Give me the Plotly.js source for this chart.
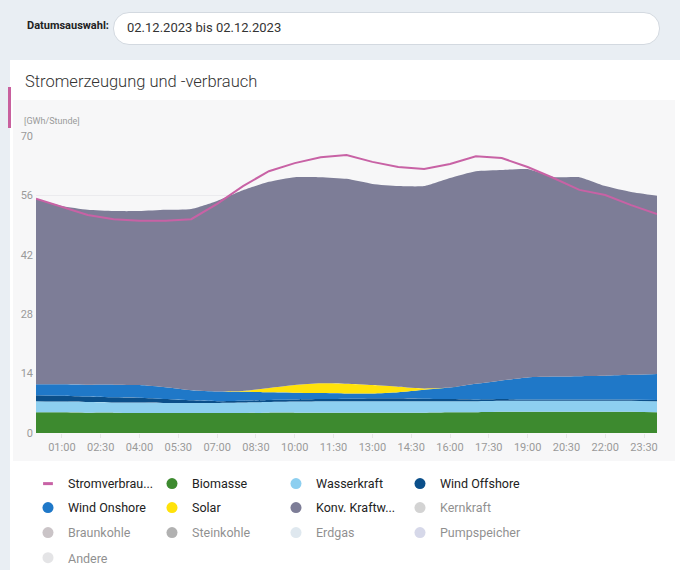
<!DOCTYPE html>
<html>
<head>
<meta charset="utf-8">
<script src="https://cdn.plot.ly/plotly-3.0.1.min.js"></script>
<style>
  html, body { margin: 0; padding: 0; }
  body { width: 680px; height: 570px; overflow: hidden; background: #e9eef3; position: relative; font-family: Roboto, "Open Sans", sans-serif; }
  #lbl { position: absolute; left: 27px; top: 19px; font-size: 11px; font-weight: bold; color: #222; }
  #inp { position: absolute; left: 113px; top: 12px; width: 545px; height: 31px; border: 1px solid #d3d9e0; border-radius: 16px; background: #fff; box-sizing: content-box; }
  #inp span { position: absolute; left: 13px; top: 7px; font-size: 13px; color: #333; }
  #card { position: absolute; left: 10px; top: 60px; width: 670px; height: 510px; background: #fff; }
  #title { position: absolute; left: 25px; top: 72px; font-size: 16.5px; font-weight: 300; color: #333; }
  #bar { position: absolute; left: 8px; top: 87px; width: 3px; height: 41px; background: #c8609e; }
  #panel { position: absolute; left: 13px; top: 100px; width: 662px; height: 361px; background: #f7f7f8; }
  #chart { position: absolute; left: 13px; top: 100px; width: 662px; height: 470px; }
</style>
</head>
<body>
<div id="lbl">Datumsauswahl:</div>
<div id="inp"><span>02.12.2023 bis 02.12.2023</span></div>
<div id="card"></div>
<div id="title">Stromerzeugung und -verbrauch</div>
<div id="bar"></div>
<div id="panel"></div>
<div id="chart"></div>
<script>
// Hourly time stamps for 02.12.2023
const times = [
  "2023-12-02 00:00","2023-12-02 01:00","2023-12-02 02:00","2023-12-02 03:00","2023-12-02 04:00",
  "2023-12-02 05:00","2023-12-02 06:00","2023-12-02 07:00","2023-12-02 08:00","2023-12-02 09:00",
  "2023-12-02 10:00","2023-12-02 11:00","2023-12-02 12:00","2023-12-02 13:00","2023-12-02 14:00",
  "2023-12-02 15:00","2023-12-02 16:00","2023-12-02 17:00","2023-12-02 18:00","2023-12-02 19:00",
  "2023-12-02 20:00","2023-12-02 21:00","2023-12-02 22:00","2023-12-02 23:00","2023-12-03 00:00"
];

// GWh per hour
const biomasse     = [4.9,4.9,4.8,4.8,4.7,4.7,4.7,4.7,4.7,4.8,4.8,4.8,4.8,4.8,4.8,4.8,4.9,4.9,5.0,5.0,5.0,5.0,5.0,5.0,4.9];
const wasserkraft  = [2.6,2.5,2.5,2.4,2.5,2.4,2.4,2.4,2.5,2.5,2.6,2.7,2.7,2.7,2.7,2.7,2.6,2.6,2.6,2.6,2.6,2.6,2.6,2.6,2.6];
const windOffshore = [1.4,1.4,1.3,1.2,1.1,0.9,0.6,0.4,0.4,0.5,0.5,0.5,0.6,0.7,0.7,0.6,0.5,0.4,0.4,0.3,0.3,0.3,0.3,0.3,0.3];
const windOnshore  = [2.6,2.7,2.8,3.0,3.0,2.8,2.4,2.3,2.1,1.8,1.6,1.4,1.2,1.1,1.4,2.1,2.7,3.7,4.4,5.2,5.4,5.5,5.6,5.8,6.1];
const solar        = [0,0,0,0,0,0,0,0,0.2,1.0,1.8,2.3,2.3,2.0,1.3,0.3,0,0,0,0,0,0,0,0,0];
const konv         = [43.7,42.0,41.2,40.9,41.0,41.8,42.7,44.9,47.3,48.6,49.0,48.6,48.3,47.4,47.3,47.7,49.4,50.1,49.6,49.1,47.0,46.9,44.7,43.1,42.0];
const verbrauch    = [55.2,53.3,51.4,50.4,50.0,50.0,50.4,54.0,58.2,61.7,63.6,65.0,65.5,63.9,62.7,62.2,63.4,65.2,64.8,62.7,60.1,57.3,56.1,53.7,51.6];

const yTicks = [0,14,28,42,56,70];

// legend entries (4 per row)
const legendNames  = ["Stromverbrau...","Biomasse","Wasserkraft","Wind Offshore","Wind Onshore","Solar","Konv. Kraftw...","Kernkraft","Braunkohle","Steinkohle","Erdgas","Pumpspeicher","Andere"];
const legendColors = ["#c862a5","#3d8a2f","#8dcff0","#0b4f8a","#1f78c8","#ffe20a","#7d7d97","#a8a8a8","#978a90","#666666","#c0d3e0","#aeb2d5","#cacace"];
const legendActive = [true,true,true,true,true,true,true,false,false,false,false,false,false];
const legendRowIds = ["legend","legend2","legend3","legend4"];

const areaSeries = [
  ["Biomasse", biomasse, "#3d8a2f"],
  ["Wasserkraft", wasserkraft, "#8dcff0"],
  ["Wind Offshore", windOffshore, "#0b4f8a"],
  ["Wind Onshore", windOnshore, "#1f78c8"],
  ["Solar", solar, "#ffe20a"],
  ["Konv. Kraftw...", konv, "#7d7d97"]
];

const traces = [];
// legend proxies (no visible marks, only legend entries)
legendNames.forEach((n, i) => {
  const isLine = i === 0;
  traces.push({
    x: [null], y: [null], type: "scatter", mode: "markers", name: n,
    legendgroup: n, showlegend: true, legend: legendRowIds[Math.floor(i / 4)],
    visible: legendActive[i] ? true : "legendonly",
    marker: isLine
      ? {symbol: "line-ew-open", size: 7, line: {color: legendColors[i], width: 3}, color: legendColors[i]}
      : {symbol: "circle", size: 11, color: legendColors[i]},
    hoverinfo: "skip"
  });
});
// stacked areas
areaSeries.forEach(([n, vals, col]) => {
  traces.push({
    x: times, y: vals, type: "scatter", mode: "lines", name: n,
    legendgroup: n, showlegend: false, stackgroup: "gen",
    line: {width: 0, color: col, shape: "spline", smoothing: 0.5},
    fillcolor: col
  });
});
// consumption line
traces.push({
  x: times, y: verbrauch, type: "scatter", mode: "lines", name: "Stromverbrau...",
  legendgroup: "Stromverbrau...", showlegend: false,
  line: {color: "#c862a5", width: 2}
});

const rowY = [-0.1717, -0.2525, -0.3367, -0.4209];
function legendRow(k) {
  return {
    orientation: "h", x: -0.0129, y: rowY[k], xanchor: "left", yanchor: "middle",
    entrywidth: 79, entrywidthmode: "pixels",
    font: {size: 12.5, color: "#222"}, bgcolor: "rgba(0,0,0,0)",
    traceorder: "normal"
  };
}

const layout = {
  width: 662, height: 470,
  margin: {l: 23, r: 18, t: 36, b: 137, autoexpand: false},
  paper_bgcolor: "rgba(0,0,0,0)",
  plot_bgcolor: "rgba(0,0,0,0)",
  font: {family: "Roboto, 'Open Sans', sans-serif", color: "#222"},
  showlegend: true,
  xaxis: {
    type: "date",
    range: ["2023-12-02 00:00", "2023-12-03 00:00"],
    tick0: "2023-12-02 01:00", dtick: 5400000, tickformat: "%H:%M",
    showgrid: false, zeroline: false, showline: false,
    ticks: "outside", ticklen: 4, tickcolor: "#e6e6e6",
    tickfont: {size: 11, color: "#9a9a9a"}
  },
  yaxis: {
    range: [0, 70], tickvals: yTicks,
    showgrid: true, gridcolor: "#ebebee", zeroline: false, showline: false,
    tickfont: {size: 11, color: "#9a9a9a"}, ticklabelstandoff: 2
  },
  annotations: [{
    text: "[GWh/Stunde]", xref: "paper", yref: "paper",
    x: -0.023, y: 1.05, xanchor: "left", yanchor: "middle",
    showarrow: false, font: {size: 9, color: "#9a9a9a"}
  }],
  legend: legendRow(0),
  legend2: legendRow(1),
  legend3: legendRow(2),
  legend4: legendRow(3),
  hovermode: false
};

Plotly.newPlot("chart", traces, layout, {displayModeBar: false, staticPlot: true});
</script>
</body>
</html>
